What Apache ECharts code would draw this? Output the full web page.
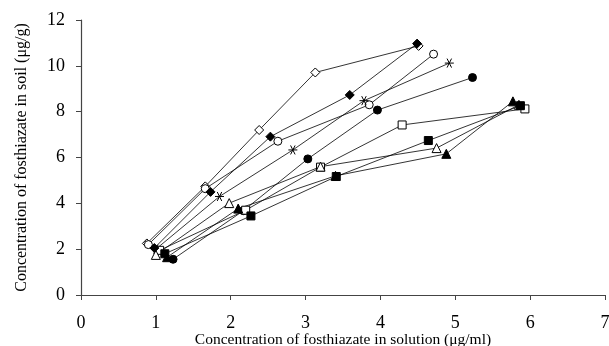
<!DOCTYPE html>
<html><head><meta charset="utf-8">
<script src="https://cdn.jsdelivr.net/npm/echarts@6/dist/echarts.min.js"></script>
<style>html,body{margin:0;padding:0;background:#fff}#c{width:609px;height:346px}</style>
</head><body><div id="c"></div>
<script>
const xTicks = [0,1,2,3,4,5,6,7];
const yTicks = [0,2,4,6,8,10,12];
const openDiamond   = [[0.88,2.25],[1.66,4.74],[2.38,7.2],[3.13,9.71],[4.51,10.87]];
const filledDiamond = [[0.98,2.05],[1.73,4.5],[2.53,6.91],[3.59,8.73],[4.49,10.97]];
const openCircle    = [[0.9,2.2],[1.66,4.64],[2.63,6.71],[3.85,8.3],[4.71,10.51]];
const star          = [[1.0,2.0],[1.85,4.3],[2.83,6.33],[3.78,8.48],[4.92,10.12]];
const filledCircle  = [[1.23,1.56],[2.17,3.68],[3.03,5.94],[3.96,8.07],[5.23,9.49]];
const openSquare    = [[1.05,1.95],[2.2,3.7],[3.2,5.58],[4.29,7.42],[5.93,8.12]];
const filledSquare  = [[1.12,1.8],[2.27,3.45],[3.41,5.17],[4.64,6.74],[5.87,8.26]];
const openTriangle  = [[1.0,1.75],[1.98,4.01],[3.2,5.6],[4.75,6.41],[5.85,8.3]];
const filledTriangle= [[1.15,1.65],[2.1,3.77],[3.4,5.2],[4.88,6.16],[5.77,8.45]];

const starPath = 'path://M0,5L10,5M2.5,0.7L7.5,9.3M7.5,0.7L2.5,9.3';
function mk(data, symbol, filled, size){
  return {
    type:'line', data:data, symbol:symbol, symbolSize:size, showSymbol:true,
    lineStyle:{color:'#000', width:0.8},
    itemStyle:{color: filled ? '#000' : (filled===null ? 'rgba(0,0,0,0)' : '#fff'), borderColor:'#000', borderWidth:1},
    emphasis:{disabled:true}, animation:false, z:2
  };
}
const chart = echarts.init(document.getElementById('c'));
chart.setOption({
  animation:false,
  grid:{left:81,right:4,top:20,bottom:51,containLabel:false,outerBoundsMode:'none'},
  xAxis:{type:'value',min:0,max:7,interval:1,
    name:'Concentration of fosthiazate in solution (\u03bcg/ml)',nameLocation:'middle',nameGap:37,nameMoveOverlap:false,
    nameTextStyle:{fontFamily:'Liberation Serif',fontSize:15.5,color:'#000'},
    axisLine:{lineStyle:{color:'#444',width:1.2}},axisTick:{show:true,length:5,lineStyle:{color:'#444'}},
    axisLabel:{fontFamily:'Liberation Serif',fontSize:18,color:'#000',margin:19},splitLine:{show:false}},
  yAxis:{type:'value',min:0,max:12,interval:2,
    name:'Concentration of fosthiazate in soil (\u03bcg/g)',nameLocation:'middle',nameGap:51,nameMoveOverlap:false,
    nameTextStyle:{fontFamily:'Liberation Serif',fontSize:16,color:'#000'},
    axisLine:{show:true,lineStyle:{color:'#444',width:1.2}},axisTick:{show:true,length:5,lineStyle:{color:'#444'}},
    axisLabel:{fontFamily:'Liberation Serif',fontSize:18,color:'#000',margin:16},splitLine:{show:false}},
  series:[
    mk(openDiamond,'diamond',false,9),
    mk(openCircle,'circle',false,8),
    mk(star,starPath,null,9),
    mk(filledCircle,'circle',true,8),
    mk(openSquare,'rect',false,8),
    mk(openTriangle,'triangle',false,9),
    mk(filledTriangle,'triangle',true,9),
    mk(filledSquare,'rect',true,8),
    mk(filledDiamond,'diamond',true,9)
  ]
});
</script></body></html>
